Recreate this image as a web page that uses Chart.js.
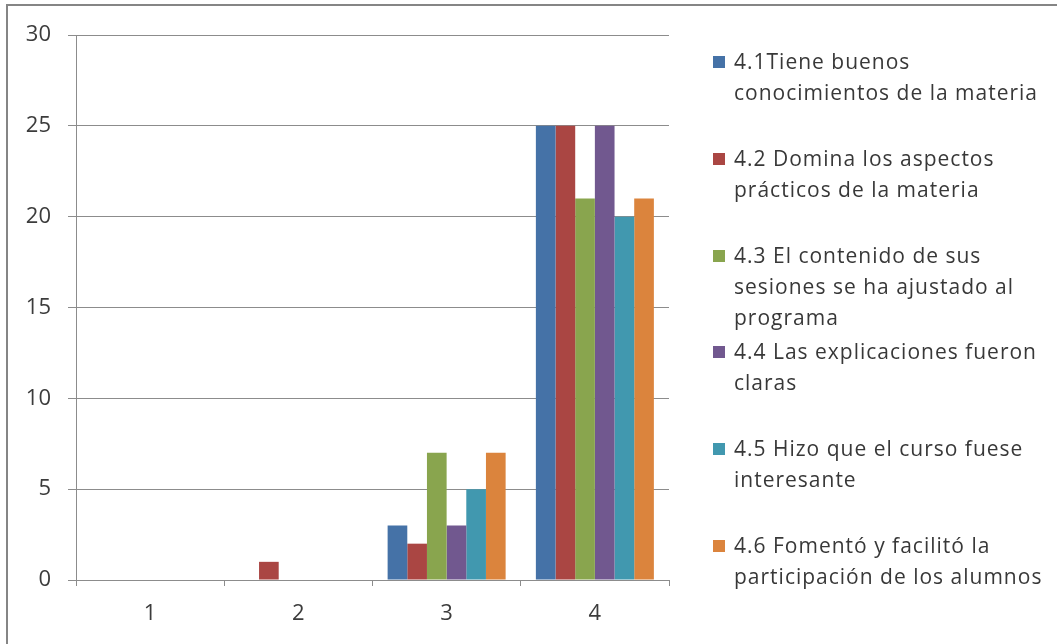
<!DOCTYPE html>
<html>
<head>
<meta charset="utf-8">
<script src="https://cdn.jsdelivr.net/npm/chart.js@4.4.1/dist/chart.umd.min.js"></script>
<style>
    body { margin: 0; background: #fff; }
    #wrap { position: relative; width: 1057px; height: 644px; overflow: hidden; background: #fff; }
    #frame {
        position: absolute; left: 6px; top: 4px; right: -10px; bottom: -10px;
        border-top: 2px solid #858585; border-left: 2px solid #858585;
    }
    #chart { position: absolute; left: 0; top: 0; }
    #legend { position: absolute; left: 713px; top: 0; font-family: "Open Sans", Lato, sans-serif; font-size: 21px; letter-spacing: 1px; color: #383838; }
    .item { position: absolute; left: 0; white-space: nowrap; line-height: 31px; }
    .box { position: absolute; left: 0; top: 10px; width: 12px; height: 12px; }
    .txt { position: absolute; left: 21px; top: 0; }
</style>
</head>
<body>
<div id="wrap">
    <div id="frame"></div>
    <canvas id="chart" width="1057" height="644"></canvas>
    <div id="legend"></div>
</div>
<script>
// Categories and series values
const categories = ['1', '2', '3', '4'];
const yTicks = [0, 5, 10, 15, 20, 25, 30];

const s41 = [0, 0, 3, 25];
const s42 = [0, 1, 2, 25];
const s43 = [0, 0, 7, 21];
const s44 = [0, 0, 3, 25];
const s45 = [0, 0, 5, 20];
const s46 = [0, 0, 7, 21];

const seriesLabels = [
    ['4.1Tiene buenos', 'conocimientos de la materia'],
    ['4.2 Domina los aspectos', 'prácticos de la materia'],
    ['4.3 El contenido de sus', 'sesiones se ha ajustado al', 'programa'],
    ['4.4 Las explicaciones fueron', 'claras'],
    ['4.5 Hizo que el curso fuese', 'interesante'],
    ['4.6 Fomentó y facilitó la', 'participación de los alumnos']
];
const seriesColors = ['#4572A7', '#AA4643', '#89A54E', '#71588F', '#4198AF', '#DB843D'];
const seriesData = [s41, s42, s43, s44, s45, s46];

const axisColor = '#8c8c8c';
const textColor = '#3c3c3c';

const datasets = seriesData.map((d, i) => ({
    label: seriesLabels[i].join(' '),
    data: d,
    backgroundColor: seriesColors[i],
    borderWidth: 0,
    barPercentage: 1,
    categoryPercentage: 0.796
}));

new Chart(document.getElementById('chart'), {
    type: 'bar',
    data: { labels: categories, datasets: datasets },
    options: {
        responsive: false,
        animation: false,
        layout: { padding: { top: 35, right: 388, left: 0, bottom: 0 } },
        plugins: {
            legend: { display: false },
            tooltip: { enabled: false }
        },
        scales: {
            x: {
                grid: { offset: true, drawOnChartArea: false, tickLength: 6, color: axisColor },
                border: { color: axisColor },
                ticks: { color: textColor, padding: 15, font: { family: 'Open Sans', size: 22 } },
                afterFit: (scale) => { scale.height = 64; }
            },
            y: {
                min: 0,
                max: 30,
                afterBuildTicks: (scale) => { scale.ticks = yTicks.map(v => ({ value: v })); },
                grid: { color: axisColor, tickLength: 8 },
                border: { color: axisColor },
                ticks: { color: textColor, padding: 17, font: { family: 'Open Sans', size: 22 } },
                afterFit: (scale) => { scale.width = 76; }
            }
        }
    }
});

// Legend drawn as HTML, entries spaced evenly like the original
const legend = document.getElementById('legend');
seriesLabels.forEach((lines, i) => {
    const item = document.createElement('div');
    item.className = 'item';
    item.style.top = (46 + i * 96.8) + 'px';
    const box = document.createElement('div');
    box.className = 'box';
    box.style.background = seriesColors[i];
    const txt = document.createElement('div');
    txt.className = 'txt';
    txt.innerHTML = lines.join('<br>');
    item.appendChild(box);
    item.appendChild(txt);
    legend.appendChild(item);
});
</script>
</body>
</html>
